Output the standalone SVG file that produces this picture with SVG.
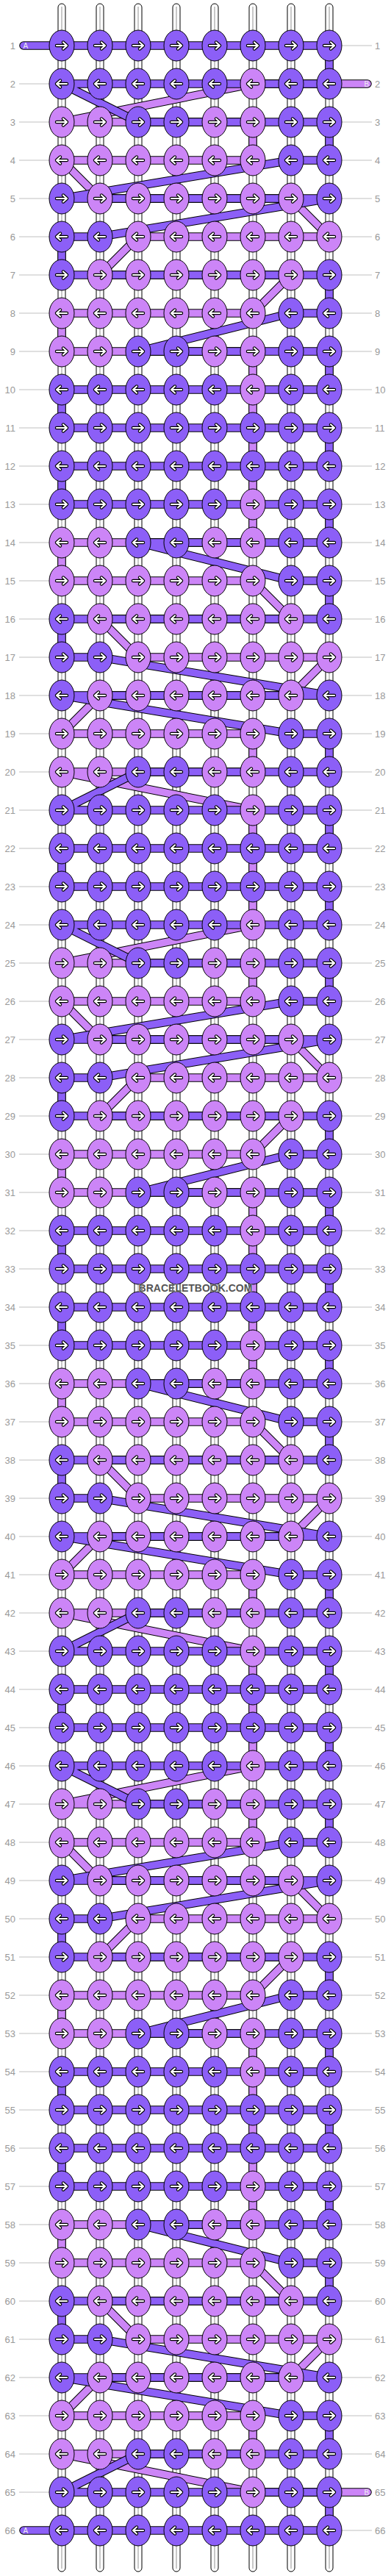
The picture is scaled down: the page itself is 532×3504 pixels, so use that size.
<svg xmlns="http://www.w3.org/2000/svg" xmlns:xlink="http://www.w3.org/1999/xlink" width="532" height="3504" viewBox="0 0 532 3504">
<style>
.s{fill:#fff;stroke:#000;stroke-width:1}
.sl{stroke:#c8c8c8;stroke-width:2}
.o{fill:none;stroke:#000;stroke-width:11.5;stroke-linejoin:round;stroke-linecap:round}
.pa{fill:none;stroke:#8c5ff7;stroke-width:9.5;stroke-linejoin:round;stroke-linecap:round}
.pb{fill:none;stroke:#cc85f7;stroke-width:9.5;stroke-linejoin:round;stroke-linecap:round}
.a{fill:#8c5ff7;stroke:#000;stroke-width:1}
.b{fill:#cc85f7;stroke:#000;stroke-width:1}
.gl{fill:none;stroke:#c0c0c0;stroke-width:1}
.l,.r{font-family:"Liberation Sans",Arial,sans-serif;font-size:13px;fill:#999}
.l{text-anchor:end}
.r{text-anchor:start}
.st{font-family:"Liberation Sans",Arial,sans-serif;font-size:10px;fill:#eee}
.ak{fill:none;stroke:#000;stroke-width:4.4;stroke-linecap:round;stroke-linejoin:round}
.aw{fill:none;stroke:#fff;stroke-width:2.2;stroke-linecap:round;stroke-linejoin:round}
</style>
<defs>
<g id="R"><path class="ak" d="M-7 0H6M2-4.5L7 0L2 4.5"/><path class="aw" d="M-7 0H6M2-4.5L7 0L2 4.5"/></g>
<g id="aR"><ellipse class="a" rx="17" ry="21"/><use href="#R"/></g>
<g id="aL"><ellipse class="a" rx="17" ry="21"/><use href="#R" transform="scale(-1,1)"/></g>
<g id="bR"><ellipse class="b" rx="17" ry="21"/><use href="#R"/></g>
<g id="bL"><ellipse class="b" rx="17" ry="21"/><use href="#R" transform="scale(-1,1)"/></g>
<path id="pathB" d="M500 114H344L84 166H344L344 218H84L136 270H396L448 322H188L136 374H396L344 426H84L84 478H344L344 686L344 738H84L84 790H344L396 842H136L188 894H448L396 946H136L84 998H344L344 1050H84L344 1102L344 1258L84 1310H344L344 1362H84L136 1414H396L448 1466H188L136 1518H396L344 1570H84L84 1622H344L344 1830L344 1882H84L84 1934H344L396 1986H136L188 2038H448L396 2090H136L84 2142H344L344 2194H84L344 2246L344 2402L84 2454H344L344 2506H84L136 2558H396L448 2610H188L136 2662H396L344 2714H84L84 2766H344L344 2974L344 3026H84L84 3078H344L396 3130H136L188 3182H448L396 3234H136L84 3286H344L344 3338H84L344 3390H500"/>
<path id="pathA" d="M32 62H448L448 114H84L188 166H448L448 218H396L84 270H448L136 322H84L84 374H448L448 426H396L188 478H448L448 530H84L84 582H448L448 634H84L84 686H448L448 738H188L396 790H448L448 842H84L84 894H136L448 946H84L396 998H448L448 1050H188L84 1102H448L448 1154H84L84 1206H448L448 1258H84L188 1310H448L448 1362H396L84 1414H448L136 1466H84L84 1518H448L448 1570H396L188 1622H448L448 1674H84L84 1726H448L448 1778H84L84 1830H448L448 1882H188L396 1934H448L448 1986H84L84 2038H136L448 2090H84L396 2142H448L448 2194H188L84 2246H448L448 2298H84L84 2350H448L448 2402H84L188 2454H448L448 2506H396L84 2558H448L136 2610H84L84 2662H448L448 2714H396L188 2766H448L448 2818H84L84 2870H448L448 2922H84L84 2974H448L448 3026H188L396 3078H448L448 3130H84L84 3182H136L448 3234H84L396 3286H448L448 3338H188L84 3390H448L448 3442H32"/>
</defs>
<rect width="532" height="3504" fill="#fff"/>
<g id="strings">
<rect class="s" x="79" y="5" width="10" height="3493" rx="5"/><rect class="s" x="131" y="5" width="10" height="3493" rx="5"/><rect class="s" x="183" y="5" width="10" height="3493" rx="5"/><rect class="s" x="235" y="5" width="10" height="3493" rx="5"/><rect class="s" x="287" y="5" width="10" height="3493" rx="5"/><rect class="s" x="339" y="5" width="10" height="3493" rx="5"/><rect class="s" x="391" y="5" width="10" height="3493" rx="5"/><rect class="s" x="443" y="5" width="10" height="3493" rx="5"/>
<path class="sl" d="M84 9V3494M136 9V3494M188 9V3494M240 9V3494M292 9V3494M344 9V3494M396 9V3494M448 9V3494"/>
</g>
<g id="labels">
<path class="gl" d="M26 62H67M465 62H506M26 114H67M465 114H506M26 166H67M465 166H506M26 218H67M465 218H506M26 270H67M465 270H506M26 322H67M465 322H506M26 374H67M465 374H506M26 426H67M465 426H506M26 478H67M465 478H506M26 530H67M465 530H506M26 582H67M465 582H506M26 634H67M465 634H506M26 686H67M465 686H506M26 738H67M465 738H506M26 790H67M465 790H506M26 842H67M465 842H506M26 894H67M465 894H506M26 946H67M465 946H506M26 998H67M465 998H506M26 1050H67M465 1050H506M26 1102H67M465 1102H506M26 1154H67M465 1154H506M26 1206H67M465 1206H506M26 1258H67M465 1258H506M26 1310H67M465 1310H506M26 1362H67M465 1362H506M26 1414H67M465 1414H506M26 1466H67M465 1466H506M26 1518H67M465 1518H506M26 1570H67M465 1570H506M26 1622H67M465 1622H506M26 1674H67M465 1674H506M26 1726H67M465 1726H506M26 1778H67M465 1778H506M26 1830H67M465 1830H506M26 1882H67M465 1882H506M26 1934H67M465 1934H506M26 1986H67M465 1986H506M26 2038H67M465 2038H506M26 2090H67M465 2090H506M26 2142H67M465 2142H506M26 2194H67M465 2194H506M26 2246H67M465 2246H506M26 2298H67M465 2298H506M26 2350H67M465 2350H506M26 2402H67M465 2402H506M26 2454H67M465 2454H506M26 2506H67M465 2506H506M26 2558H67M465 2558H506M26 2610H67M465 2610H506M26 2662H67M465 2662H506M26 2714H67M465 2714H506M26 2766H67M465 2766H506M26 2818H67M465 2818H506M26 2870H67M465 2870H506M26 2922H67M465 2922H506M26 2974H67M465 2974H506M26 3026H67M465 3026H506M26 3078H67M465 3078H506M26 3130H67M465 3130H506M26 3182H67M465 3182H506M26 3234H67M465 3234H506M26 3286H67M465 3286H506M26 3338H67M465 3338H506M26 3390H67M465 3390H506M26 3442H67M465 3442H506"/>
<text class="l" x="21" y="66.5">1</text><text class="r" x="510" y="66.5">1</text>
<text class="l" x="21" y="118.5">2</text><text class="r" x="510" y="118.5">2</text>
<text class="l" x="21" y="170.5">3</text><text class="r" x="510" y="170.5">3</text>
<text class="l" x="21" y="222.5">4</text><text class="r" x="510" y="222.5">4</text>
<text class="l" x="21" y="274.5">5</text><text class="r" x="510" y="274.5">5</text>
<text class="l" x="21" y="326.5">6</text><text class="r" x="510" y="326.5">6</text>
<text class="l" x="21" y="378.5">7</text><text class="r" x="510" y="378.5">7</text>
<text class="l" x="21" y="430.5">8</text><text class="r" x="510" y="430.5">8</text>
<text class="l" x="21" y="482.5">9</text><text class="r" x="510" y="482.5">9</text>
<text class="l" x="21" y="534.5">10</text><text class="r" x="510" y="534.5">10</text>
<text class="l" x="21" y="586.5">11</text><text class="r" x="510" y="586.5">11</text>
<text class="l" x="21" y="638.5">12</text><text class="r" x="510" y="638.5">12</text>
<text class="l" x="21" y="690.5">13</text><text class="r" x="510" y="690.5">13</text>
<text class="l" x="21" y="742.5">14</text><text class="r" x="510" y="742.5">14</text>
<text class="l" x="21" y="794.5">15</text><text class="r" x="510" y="794.5">15</text>
<text class="l" x="21" y="846.5">16</text><text class="r" x="510" y="846.5">16</text>
<text class="l" x="21" y="898.5">17</text><text class="r" x="510" y="898.5">17</text>
<text class="l" x="21" y="950.5">18</text><text class="r" x="510" y="950.5">18</text>
<text class="l" x="21" y="1002.5">19</text><text class="r" x="510" y="1002.5">19</text>
<text class="l" x="21" y="1054.5">20</text><text class="r" x="510" y="1054.5">20</text>
<text class="l" x="21" y="1106.5">21</text><text class="r" x="510" y="1106.5">21</text>
<text class="l" x="21" y="1158.5">22</text><text class="r" x="510" y="1158.5">22</text>
<text class="l" x="21" y="1210.5">23</text><text class="r" x="510" y="1210.5">23</text>
<text class="l" x="21" y="1262.5">24</text><text class="r" x="510" y="1262.5">24</text>
<text class="l" x="21" y="1314.5">25</text><text class="r" x="510" y="1314.5">25</text>
<text class="l" x="21" y="1366.5">26</text><text class="r" x="510" y="1366.5">26</text>
<text class="l" x="21" y="1418.5">27</text><text class="r" x="510" y="1418.5">27</text>
<text class="l" x="21" y="1470.5">28</text><text class="r" x="510" y="1470.5">28</text>
<text class="l" x="21" y="1522.5">29</text><text class="r" x="510" y="1522.5">29</text>
<text class="l" x="21" y="1574.5">30</text><text class="r" x="510" y="1574.5">30</text>
<text class="l" x="21" y="1626.5">31</text><text class="r" x="510" y="1626.5">31</text>
<text class="l" x="21" y="1678.5">32</text><text class="r" x="510" y="1678.5">32</text>
<text class="l" x="21" y="1730.5">33</text><text class="r" x="510" y="1730.5">33</text>
<text class="l" x="21" y="1782.5">34</text><text class="r" x="510" y="1782.5">34</text>
<text class="l" x="21" y="1834.5">35</text><text class="r" x="510" y="1834.5">35</text>
<text class="l" x="21" y="1886.5">36</text><text class="r" x="510" y="1886.5">36</text>
<text class="l" x="21" y="1938.5">37</text><text class="r" x="510" y="1938.5">37</text>
<text class="l" x="21" y="1990.5">38</text><text class="r" x="510" y="1990.5">38</text>
<text class="l" x="21" y="2042.5">39</text><text class="r" x="510" y="2042.5">39</text>
<text class="l" x="21" y="2094.5">40</text><text class="r" x="510" y="2094.5">40</text>
<text class="l" x="21" y="2146.5">41</text><text class="r" x="510" y="2146.5">41</text>
<text class="l" x="21" y="2198.5">42</text><text class="r" x="510" y="2198.5">42</text>
<text class="l" x="21" y="2250.5">43</text><text class="r" x="510" y="2250.5">43</text>
<text class="l" x="21" y="2302.5">44</text><text class="r" x="510" y="2302.5">44</text>
<text class="l" x="21" y="2354.5">45</text><text class="r" x="510" y="2354.5">45</text>
<text class="l" x="21" y="2406.5">46</text><text class="r" x="510" y="2406.5">46</text>
<text class="l" x="21" y="2458.5">47</text><text class="r" x="510" y="2458.5">47</text>
<text class="l" x="21" y="2510.5">48</text><text class="r" x="510" y="2510.5">48</text>
<text class="l" x="21" y="2562.5">49</text><text class="r" x="510" y="2562.5">49</text>
<text class="l" x="21" y="2614.5">50</text><text class="r" x="510" y="2614.5">50</text>
<text class="l" x="21" y="2666.5">51</text><text class="r" x="510" y="2666.5">51</text>
<text class="l" x="21" y="2718.5">52</text><text class="r" x="510" y="2718.5">52</text>
<text class="l" x="21" y="2770.5">53</text><text class="r" x="510" y="2770.5">53</text>
<text class="l" x="21" y="2822.5">54</text><text class="r" x="510" y="2822.5">54</text>
<text class="l" x="21" y="2874.5">55</text><text class="r" x="510" y="2874.5">55</text>
<text class="l" x="21" y="2926.5">56</text><text class="r" x="510" y="2926.5">56</text>
<text class="l" x="21" y="2978.5">57</text><text class="r" x="510" y="2978.5">57</text>
<text class="l" x="21" y="3030.5">58</text><text class="r" x="510" y="3030.5">58</text>
<text class="l" x="21" y="3082.5">59</text><text class="r" x="510" y="3082.5">59</text>
<text class="l" x="21" y="3134.5">60</text><text class="r" x="510" y="3134.5">60</text>
<text class="l" x="21" y="3186.5">61</text><text class="r" x="510" y="3186.5">61</text>
<text class="l" x="21" y="3238.5">62</text><text class="r" x="510" y="3238.5">62</text>
<text class="l" x="21" y="3290.5">63</text><text class="r" x="510" y="3290.5">63</text>
<text class="l" x="21" y="3342.5">64</text><text class="r" x="510" y="3342.5">64</text>
<text class="l" x="21" y="3394.5">65</text><text class="r" x="510" y="3394.5">65</text>
<text class="l" x="21" y="3446.5">66</text><text class="r" x="510" y="3446.5">66</text>
</g>
<g id="connectors">
<g id="threadB">
<use href="#pathB" class="o"/>
<use href="#pathB" class="pb"/>
<text class="st" x="495.5" y="118">B</text>
<text class="st" x="495.5" y="3394">B</text>
</g>
<g id="threadA">
<use href="#pathA" class="o"/>
<use href="#pathA" class="pa"/>
<text class="st" x="31.5" y="66">A</text>
<text class="st" x="31.5" y="3446">A</text>
</g>
</g>
<g id="knots">
<g transform="translate(0,62)"><g id="k1-1"><use href="#aR" x="84"/></g><g id="k1-2"><use href="#aR" x="136"/></g><g id="k1-3"><use href="#aR" x="188"/></g><g id="k1-4"><use href="#aR" x="240"/></g><g id="k1-5"><use href="#aR" x="292"/></g><g id="k1-6"><use href="#aR" x="344"/></g><g id="k1-7"><use href="#aR" x="396"/></g><g id="k1-8"><use href="#aR" x="448"/></g></g>
<g transform="translate(0,114)"><g id="k2-1"><use href="#aL" x="84"/></g><g id="k2-2"><use href="#aL" x="136"/></g><g id="k2-3"><use href="#aL" x="188"/></g><g id="k2-4"><use href="#aL" x="240"/></g><g id="k2-5"><use href="#aL" x="292"/></g><g id="k2-6"><use href="#bL" x="344"/></g><g id="k2-7"><use href="#aL" x="396"/></g><g id="k2-8"><use href="#aL" x="448"/></g></g>
<g transform="translate(0,166)"><g id="k3-1"><use href="#bR" x="84"/></g><g id="k3-2"><use href="#bR" x="136"/></g><g id="k3-3"><use href="#aR" x="188"/></g><g id="k3-4"><use href="#aR" x="240"/></g><g id="k3-5"><use href="#bR" x="292"/></g><g id="k3-6"><use href="#bR" x="344"/></g><g id="k3-7"><use href="#aR" x="396"/></g><g id="k3-8"><use href="#aR" x="448"/></g></g>
<g transform="translate(0,218)"><g id="k4-1"><use href="#bL" x="84"/></g><g id="k4-2"><use href="#bL" x="136"/></g><g id="k4-3"><use href="#bL" x="188"/></g><g id="k4-4"><use href="#bL" x="240"/></g><g id="k4-5"><use href="#bL" x="292"/></g><g id="k4-6"><use href="#bL" x="344"/></g><g id="k4-7"><use href="#aL" x="396"/></g><g id="k4-8"><use href="#aL" x="448"/></g></g>
<g transform="translate(0,270)"><g id="k5-1"><use href="#aR" x="84"/></g><g id="k5-2"><use href="#bR" x="136"/></g><g id="k5-3"><use href="#bR" x="188"/></g><g id="k5-4"><use href="#bR" x="240"/></g><g id="k5-5"><use href="#bR" x="292"/></g><g id="k5-6"><use href="#bR" x="344"/></g><g id="k5-7"><use href="#bR" x="396"/></g><g id="k5-8"><use href="#aR" x="448"/></g></g>
<g transform="translate(0,322)"><g id="k6-1"><use href="#aL" x="84"/></g><g id="k6-2"><use href="#aL" x="136"/></g><g id="k6-3"><use href="#bL" x="188"/></g><g id="k6-4"><use href="#bL" x="240"/></g><g id="k6-5"><use href="#bL" x="292"/></g><g id="k6-6"><use href="#bL" x="344"/></g><g id="k6-7"><use href="#bL" x="396"/></g><g id="k6-8"><use href="#bL" x="448"/></g></g>
<g transform="translate(0,374)"><g id="k7-1"><use href="#aR" x="84"/></g><g id="k7-2"><use href="#bR" x="136"/></g><g id="k7-3"><use href="#bR" x="188"/></g><g id="k7-4"><use href="#bR" x="240"/></g><g id="k7-5"><use href="#bR" x="292"/></g><g id="k7-6"><use href="#bR" x="344"/></g><g id="k7-7"><use href="#bR" x="396"/></g><g id="k7-8"><use href="#aR" x="448"/></g></g>
<g transform="translate(0,426)"><g id="k8-1"><use href="#bL" x="84"/></g><g id="k8-2"><use href="#bL" x="136"/></g><g id="k8-3"><use href="#bL" x="188"/></g><g id="k8-4"><use href="#bL" x="240"/></g><g id="k8-5"><use href="#bL" x="292"/></g><g id="k8-6"><use href="#bL" x="344"/></g><g id="k8-7"><use href="#aL" x="396"/></g><g id="k8-8"><use href="#aL" x="448"/></g></g>
<g transform="translate(0,478)"><g id="k9-1"><use href="#bR" x="84"/></g><g id="k9-2"><use href="#bR" x="136"/></g><g id="k9-3"><use href="#aR" x="188"/></g><g id="k9-4"><use href="#aR" x="240"/></g><g id="k9-5"><use href="#bR" x="292"/></g><g id="k9-6"><use href="#bR" x="344"/></g><g id="k9-7"><use href="#aR" x="396"/></g><g id="k9-8"><use href="#aR" x="448"/></g></g>
<g transform="translate(0,530)"><g id="k10-1"><use href="#aL" x="84"/></g><g id="k10-2"><use href="#aL" x="136"/></g><g id="k10-3"><use href="#aL" x="188"/></g><g id="k10-4"><use href="#aL" x="240"/></g><g id="k10-5"><use href="#aL" x="292"/></g><g id="k10-6"><use href="#bL" x="344"/></g><g id="k10-7"><use href="#aL" x="396"/></g><g id="k10-8"><use href="#aL" x="448"/></g></g>
<g transform="translate(0,582)"><g id="k11-1"><use href="#aR" x="84"/></g><g id="k11-2"><use href="#aR" x="136"/></g><g id="k11-3"><use href="#aR" x="188"/></g><g id="k11-4"><use href="#aR" x="240"/></g><g id="k11-5"><use href="#aR" x="292"/></g><g id="k11-6"><use href="#aR" x="344"/></g><g id="k11-7"><use href="#aR" x="396"/></g><g id="k11-8"><use href="#aR" x="448"/></g></g>
<g transform="translate(0,634)"><g id="k12-1"><use href="#aL" x="84"/></g><g id="k12-2"><use href="#aL" x="136"/></g><g id="k12-3"><use href="#aL" x="188"/></g><g id="k12-4"><use href="#aL" x="240"/></g><g id="k12-5"><use href="#aL" x="292"/></g><g id="k12-6"><use href="#aL" x="344"/></g><g id="k12-7"><use href="#aL" x="396"/></g><g id="k12-8"><use href="#aL" x="448"/></g></g>
<g transform="translate(0,686)"><g id="k13-1"><use href="#aR" x="84"/></g><g id="k13-2"><use href="#aR" x="136"/></g><g id="k13-3"><use href="#aR" x="188"/></g><g id="k13-4"><use href="#aR" x="240"/></g><g id="k13-5"><use href="#aR" x="292"/></g><g id="k13-6"><use href="#bR" x="344"/></g><g id="k13-7"><use href="#aR" x="396"/></g><g id="k13-8"><use href="#aR" x="448"/></g></g>
<g transform="translate(0,738)"><g id="k14-1"><use href="#bL" x="84"/></g><g id="k14-2"><use href="#bL" x="136"/></g><g id="k14-3"><use href="#aL" x="188"/></g><g id="k14-4"><use href="#aL" x="240"/></g><g id="k14-5"><use href="#bL" x="292"/></g><g id="k14-6"><use href="#bL" x="344"/></g><g id="k14-7"><use href="#aL" x="396"/></g><g id="k14-8"><use href="#aL" x="448"/></g></g>
<g transform="translate(0,790)"><g id="k15-1"><use href="#bR" x="84"/></g><g id="k15-2"><use href="#bR" x="136"/></g><g id="k15-3"><use href="#bR" x="188"/></g><g id="k15-4"><use href="#bR" x="240"/></g><g id="k15-5"><use href="#bR" x="292"/></g><g id="k15-6"><use href="#bR" x="344"/></g><g id="k15-7"><use href="#aR" x="396"/></g><g id="k15-8"><use href="#aR" x="448"/></g></g>
<g transform="translate(0,842)"><g id="k16-1"><use href="#aL" x="84"/></g><g id="k16-2"><use href="#bL" x="136"/></g><g id="k16-3"><use href="#bL" x="188"/></g><g id="k16-4"><use href="#bL" x="240"/></g><g id="k16-5"><use href="#bL" x="292"/></g><g id="k16-6"><use href="#bL" x="344"/></g><g id="k16-7"><use href="#bL" x="396"/></g><g id="k16-8"><use href="#aL" x="448"/></g></g>
<g transform="translate(0,894)"><g id="k17-1"><use href="#aR" x="84"/></g><g id="k17-2"><use href="#aR" x="136"/></g><g id="k17-3"><use href="#bR" x="188"/></g><g id="k17-4"><use href="#bR" x="240"/></g><g id="k17-5"><use href="#bR" x="292"/></g><g id="k17-6"><use href="#bR" x="344"/></g><g id="k17-7"><use href="#bR" x="396"/></g><g id="k17-8"><use href="#bR" x="448"/></g></g>
<g transform="translate(0,946)"><g id="k18-1"><use href="#aL" x="84"/></g><g id="k18-2"><use href="#bL" x="136"/></g><g id="k18-3"><use href="#bL" x="188"/></g><g id="k18-4"><use href="#bL" x="240"/></g><g id="k18-5"><use href="#bL" x="292"/></g><g id="k18-6"><use href="#bL" x="344"/></g><g id="k18-7"><use href="#bL" x="396"/></g><g id="k18-8"><use href="#aL" x="448"/></g></g>
<g transform="translate(0,998)"><g id="k19-1"><use href="#bR" x="84"/></g><g id="k19-2"><use href="#bR" x="136"/></g><g id="k19-3"><use href="#bR" x="188"/></g><g id="k19-4"><use href="#bR" x="240"/></g><g id="k19-5"><use href="#bR" x="292"/></g><g id="k19-6"><use href="#bR" x="344"/></g><g id="k19-7"><use href="#aR" x="396"/></g><g id="k19-8"><use href="#aR" x="448"/></g></g>
<g transform="translate(0,1050)"><g id="k20-1"><use href="#bL" x="84"/></g><g id="k20-2"><use href="#bL" x="136"/></g><g id="k20-3"><use href="#aL" x="188"/></g><g id="k20-4"><use href="#aL" x="240"/></g><g id="k20-5"><use href="#bL" x="292"/></g><g id="k20-6"><use href="#bL" x="344"/></g><g id="k20-7"><use href="#aL" x="396"/></g><g id="k20-8"><use href="#aL" x="448"/></g></g>
<g transform="translate(0,1102)"><g id="k21-1"><use href="#aR" x="84"/></g><g id="k21-2"><use href="#aR" x="136"/></g><g id="k21-3"><use href="#aR" x="188"/></g><g id="k21-4"><use href="#aR" x="240"/></g><g id="k21-5"><use href="#aR" x="292"/></g><g id="k21-6"><use href="#bR" x="344"/></g><g id="k21-7"><use href="#aR" x="396"/></g><g id="k21-8"><use href="#aR" x="448"/></g></g>
<g transform="translate(0,1154)"><g id="k22-1"><use href="#aL" x="84"/></g><g id="k22-2"><use href="#aL" x="136"/></g><g id="k22-3"><use href="#aL" x="188"/></g><g id="k22-4"><use href="#aL" x="240"/></g><g id="k22-5"><use href="#aL" x="292"/></g><g id="k22-6"><use href="#aL" x="344"/></g><g id="k22-7"><use href="#aL" x="396"/></g><g id="k22-8"><use href="#aL" x="448"/></g></g>
<g transform="translate(0,1206)"><g id="k23-1"><use href="#aR" x="84"/></g><g id="k23-2"><use href="#aR" x="136"/></g><g id="k23-3"><use href="#aR" x="188"/></g><g id="k23-4"><use href="#aR" x="240"/></g><g id="k23-5"><use href="#aR" x="292"/></g><g id="k23-6"><use href="#aR" x="344"/></g><g id="k23-7"><use href="#aR" x="396"/></g><g id="k23-8"><use href="#aR" x="448"/></g></g>
<g transform="translate(0,1258)"><g id="k24-1"><use href="#aL" x="84"/></g><g id="k24-2"><use href="#aL" x="136"/></g><g id="k24-3"><use href="#aL" x="188"/></g><g id="k24-4"><use href="#aL" x="240"/></g><g id="k24-5"><use href="#aL" x="292"/></g><g id="k24-6"><use href="#bL" x="344"/></g><g id="k24-7"><use href="#aL" x="396"/></g><g id="k24-8"><use href="#aL" x="448"/></g></g>
<g transform="translate(0,1310)"><g id="k25-1"><use href="#bR" x="84"/></g><g id="k25-2"><use href="#bR" x="136"/></g><g id="k25-3"><use href="#aR" x="188"/></g><g id="k25-4"><use href="#aR" x="240"/></g><g id="k25-5"><use href="#bR" x="292"/></g><g id="k25-6"><use href="#bR" x="344"/></g><g id="k25-7"><use href="#aR" x="396"/></g><g id="k25-8"><use href="#aR" x="448"/></g></g>
<g transform="translate(0,1362)"><g id="k26-1"><use href="#bL" x="84"/></g><g id="k26-2"><use href="#bL" x="136"/></g><g id="k26-3"><use href="#bL" x="188"/></g><g id="k26-4"><use href="#bL" x="240"/></g><g id="k26-5"><use href="#bL" x="292"/></g><g id="k26-6"><use href="#bL" x="344"/></g><g id="k26-7"><use href="#aL" x="396"/></g><g id="k26-8"><use href="#aL" x="448"/></g></g>
<g transform="translate(0,1414)"><g id="k27-1"><use href="#aR" x="84"/></g><g id="k27-2"><use href="#bR" x="136"/></g><g id="k27-3"><use href="#bR" x="188"/></g><g id="k27-4"><use href="#bR" x="240"/></g><g id="k27-5"><use href="#bR" x="292"/></g><g id="k27-6"><use href="#bR" x="344"/></g><g id="k27-7"><use href="#bR" x="396"/></g><g id="k27-8"><use href="#aR" x="448"/></g></g>
<g transform="translate(0,1466)"><g id="k28-1"><use href="#aL" x="84"/></g><g id="k28-2"><use href="#aL" x="136"/></g><g id="k28-3"><use href="#bL" x="188"/></g><g id="k28-4"><use href="#bL" x="240"/></g><g id="k28-5"><use href="#bL" x="292"/></g><g id="k28-6"><use href="#bL" x="344"/></g><g id="k28-7"><use href="#bL" x="396"/></g><g id="k28-8"><use href="#bL" x="448"/></g></g>
<g transform="translate(0,1518)"><g id="k29-1"><use href="#aR" x="84"/></g><g id="k29-2"><use href="#bR" x="136"/></g><g id="k29-3"><use href="#bR" x="188"/></g><g id="k29-4"><use href="#bR" x="240"/></g><g id="k29-5"><use href="#bR" x="292"/></g><g id="k29-6"><use href="#bR" x="344"/></g><g id="k29-7"><use href="#bR" x="396"/></g><g id="k29-8"><use href="#aR" x="448"/></g></g>
<g transform="translate(0,1570)"><g id="k30-1"><use href="#bL" x="84"/></g><g id="k30-2"><use href="#bL" x="136"/></g><g id="k30-3"><use href="#bL" x="188"/></g><g id="k30-4"><use href="#bL" x="240"/></g><g id="k30-5"><use href="#bL" x="292"/></g><g id="k30-6"><use href="#bL" x="344"/></g><g id="k30-7"><use href="#aL" x="396"/></g><g id="k30-8"><use href="#aL" x="448"/></g></g>
<g transform="translate(0,1622)"><g id="k31-1"><use href="#bR" x="84"/></g><g id="k31-2"><use href="#bR" x="136"/></g><g id="k31-3"><use href="#aR" x="188"/></g><g id="k31-4"><use href="#aR" x="240"/></g><g id="k31-5"><use href="#bR" x="292"/></g><g id="k31-6"><use href="#bR" x="344"/></g><g id="k31-7"><use href="#aR" x="396"/></g><g id="k31-8"><use href="#aR" x="448"/></g></g>
<g transform="translate(0,1674)"><g id="k32-1"><use href="#aL" x="84"/></g><g id="k32-2"><use href="#aL" x="136"/></g><g id="k32-3"><use href="#aL" x="188"/></g><g id="k32-4"><use href="#aL" x="240"/></g><g id="k32-5"><use href="#aL" x="292"/></g><g id="k32-6"><use href="#bL" x="344"/></g><g id="k32-7"><use href="#aL" x="396"/></g><g id="k32-8"><use href="#aL" x="448"/></g></g>
<g transform="translate(0,1726)"><g id="k33-1"><use href="#aR" x="84"/></g><g id="k33-2"><use href="#aR" x="136"/></g><g id="k33-3"><use href="#aR" x="188"/></g><g id="k33-4"><use href="#aR" x="240"/></g><g id="k33-5"><use href="#aR" x="292"/></g><g id="k33-6"><use href="#aR" x="344"/></g><g id="k33-7"><use href="#aR" x="396"/></g><g id="k33-8"><use href="#aR" x="448"/></g></g>
<g transform="translate(0,1778)"><g id="k34-1"><use href="#aL" x="84"/></g><g id="k34-2"><use href="#aL" x="136"/></g><g id="k34-3"><use href="#aL" x="188"/></g><g id="k34-4"><use href="#aL" x="240"/></g><g id="k34-5"><use href="#aL" x="292"/></g><g id="k34-6"><use href="#aL" x="344"/></g><g id="k34-7"><use href="#aL" x="396"/></g><g id="k34-8"><use href="#aL" x="448"/></g></g>
<g transform="translate(0,1830)"><g id="k35-1"><use href="#aR" x="84"/></g><g id="k35-2"><use href="#aR" x="136"/></g><g id="k35-3"><use href="#aR" x="188"/></g><g id="k35-4"><use href="#aR" x="240"/></g><g id="k35-5"><use href="#aR" x="292"/></g><g id="k35-6"><use href="#bR" x="344"/></g><g id="k35-7"><use href="#aR" x="396"/></g><g id="k35-8"><use href="#aR" x="448"/></g></g>
<g transform="translate(0,1882)"><g id="k36-1"><use href="#bL" x="84"/></g><g id="k36-2"><use href="#bL" x="136"/></g><g id="k36-3"><use href="#aL" x="188"/></g><g id="k36-4"><use href="#aL" x="240"/></g><g id="k36-5"><use href="#bL" x="292"/></g><g id="k36-6"><use href="#bL" x="344"/></g><g id="k36-7"><use href="#aL" x="396"/></g><g id="k36-8"><use href="#aL" x="448"/></g></g>
<g transform="translate(0,1934)"><g id="k37-1"><use href="#bR" x="84"/></g><g id="k37-2"><use href="#bR" x="136"/></g><g id="k37-3"><use href="#bR" x="188"/></g><g id="k37-4"><use href="#bR" x="240"/></g><g id="k37-5"><use href="#bR" x="292"/></g><g id="k37-6"><use href="#bR" x="344"/></g><g id="k37-7"><use href="#aR" x="396"/></g><g id="k37-8"><use href="#aR" x="448"/></g></g>
<g transform="translate(0,1986)"><g id="k38-1"><use href="#aL" x="84"/></g><g id="k38-2"><use href="#bL" x="136"/></g><g id="k38-3"><use href="#bL" x="188"/></g><g id="k38-4"><use href="#bL" x="240"/></g><g id="k38-5"><use href="#bL" x="292"/></g><g id="k38-6"><use href="#bL" x="344"/></g><g id="k38-7"><use href="#bL" x="396"/></g><g id="k38-8"><use href="#aL" x="448"/></g></g>
<g transform="translate(0,2038)"><g id="k39-1"><use href="#aR" x="84"/></g><g id="k39-2"><use href="#aR" x="136"/></g><g id="k39-3"><use href="#bR" x="188"/></g><g id="k39-4"><use href="#bR" x="240"/></g><g id="k39-5"><use href="#bR" x="292"/></g><g id="k39-6"><use href="#bR" x="344"/></g><g id="k39-7"><use href="#bR" x="396"/></g><g id="k39-8"><use href="#bR" x="448"/></g></g>
<g transform="translate(0,2090)"><g id="k40-1"><use href="#aL" x="84"/></g><g id="k40-2"><use href="#bL" x="136"/></g><g id="k40-3"><use href="#bL" x="188"/></g><g id="k40-4"><use href="#bL" x="240"/></g><g id="k40-5"><use href="#bL" x="292"/></g><g id="k40-6"><use href="#bL" x="344"/></g><g id="k40-7"><use href="#bL" x="396"/></g><g id="k40-8"><use href="#aL" x="448"/></g></g>
<g transform="translate(0,2142)"><g id="k41-1"><use href="#bR" x="84"/></g><g id="k41-2"><use href="#bR" x="136"/></g><g id="k41-3"><use href="#bR" x="188"/></g><g id="k41-4"><use href="#bR" x="240"/></g><g id="k41-5"><use href="#bR" x="292"/></g><g id="k41-6"><use href="#bR" x="344"/></g><g id="k41-7"><use href="#aR" x="396"/></g><g id="k41-8"><use href="#aR" x="448"/></g></g>
<g transform="translate(0,2194)"><g id="k42-1"><use href="#bL" x="84"/></g><g id="k42-2"><use href="#bL" x="136"/></g><g id="k42-3"><use href="#aL" x="188"/></g><g id="k42-4"><use href="#aL" x="240"/></g><g id="k42-5"><use href="#bL" x="292"/></g><g id="k42-6"><use href="#bL" x="344"/></g><g id="k42-7"><use href="#aL" x="396"/></g><g id="k42-8"><use href="#aL" x="448"/></g></g>
<g transform="translate(0,2246)"><g id="k43-1"><use href="#aR" x="84"/></g><g id="k43-2"><use href="#aR" x="136"/></g><g id="k43-3"><use href="#aR" x="188"/></g><g id="k43-4"><use href="#aR" x="240"/></g><g id="k43-5"><use href="#aR" x="292"/></g><g id="k43-6"><use href="#bR" x="344"/></g><g id="k43-7"><use href="#aR" x="396"/></g><g id="k43-8"><use href="#aR" x="448"/></g></g>
<g transform="translate(0,2298)"><g id="k44-1"><use href="#aL" x="84"/></g><g id="k44-2"><use href="#aL" x="136"/></g><g id="k44-3"><use href="#aL" x="188"/></g><g id="k44-4"><use href="#aL" x="240"/></g><g id="k44-5"><use href="#aL" x="292"/></g><g id="k44-6"><use href="#aL" x="344"/></g><g id="k44-7"><use href="#aL" x="396"/></g><g id="k44-8"><use href="#aL" x="448"/></g></g>
<g transform="translate(0,2350)"><g id="k45-1"><use href="#aR" x="84"/></g><g id="k45-2"><use href="#aR" x="136"/></g><g id="k45-3"><use href="#aR" x="188"/></g><g id="k45-4"><use href="#aR" x="240"/></g><g id="k45-5"><use href="#aR" x="292"/></g><g id="k45-6"><use href="#aR" x="344"/></g><g id="k45-7"><use href="#aR" x="396"/></g><g id="k45-8"><use href="#aR" x="448"/></g></g>
<g transform="translate(0,2402)"><g id="k46-1"><use href="#aL" x="84"/></g><g id="k46-2"><use href="#aL" x="136"/></g><g id="k46-3"><use href="#aL" x="188"/></g><g id="k46-4"><use href="#aL" x="240"/></g><g id="k46-5"><use href="#aL" x="292"/></g><g id="k46-6"><use href="#bL" x="344"/></g><g id="k46-7"><use href="#aL" x="396"/></g><g id="k46-8"><use href="#aL" x="448"/></g></g>
<g transform="translate(0,2454)"><g id="k47-1"><use href="#bR" x="84"/></g><g id="k47-2"><use href="#bR" x="136"/></g><g id="k47-3"><use href="#aR" x="188"/></g><g id="k47-4"><use href="#aR" x="240"/></g><g id="k47-5"><use href="#bR" x="292"/></g><g id="k47-6"><use href="#bR" x="344"/></g><g id="k47-7"><use href="#aR" x="396"/></g><g id="k47-8"><use href="#aR" x="448"/></g></g>
<g transform="translate(0,2506)"><g id="k48-1"><use href="#bL" x="84"/></g><g id="k48-2"><use href="#bL" x="136"/></g><g id="k48-3"><use href="#bL" x="188"/></g><g id="k48-4"><use href="#bL" x="240"/></g><g id="k48-5"><use href="#bL" x="292"/></g><g id="k48-6"><use href="#bL" x="344"/></g><g id="k48-7"><use href="#aL" x="396"/></g><g id="k48-8"><use href="#aL" x="448"/></g></g>
<g transform="translate(0,2558)"><g id="k49-1"><use href="#aR" x="84"/></g><g id="k49-2"><use href="#bR" x="136"/></g><g id="k49-3"><use href="#bR" x="188"/></g><g id="k49-4"><use href="#bR" x="240"/></g><g id="k49-5"><use href="#bR" x="292"/></g><g id="k49-6"><use href="#bR" x="344"/></g><g id="k49-7"><use href="#bR" x="396"/></g><g id="k49-8"><use href="#aR" x="448"/></g></g>
<g transform="translate(0,2610)"><g id="k50-1"><use href="#aL" x="84"/></g><g id="k50-2"><use href="#aL" x="136"/></g><g id="k50-3"><use href="#bL" x="188"/></g><g id="k50-4"><use href="#bL" x="240"/></g><g id="k50-5"><use href="#bL" x="292"/></g><g id="k50-6"><use href="#bL" x="344"/></g><g id="k50-7"><use href="#bL" x="396"/></g><g id="k50-8"><use href="#bL" x="448"/></g></g>
<g transform="translate(0,2662)"><g id="k51-1"><use href="#aR" x="84"/></g><g id="k51-2"><use href="#bR" x="136"/></g><g id="k51-3"><use href="#bR" x="188"/></g><g id="k51-4"><use href="#bR" x="240"/></g><g id="k51-5"><use href="#bR" x="292"/></g><g id="k51-6"><use href="#bR" x="344"/></g><g id="k51-7"><use href="#bR" x="396"/></g><g id="k51-8"><use href="#aR" x="448"/></g></g>
<g transform="translate(0,2714)"><g id="k52-1"><use href="#bL" x="84"/></g><g id="k52-2"><use href="#bL" x="136"/></g><g id="k52-3"><use href="#bL" x="188"/></g><g id="k52-4"><use href="#bL" x="240"/></g><g id="k52-5"><use href="#bL" x="292"/></g><g id="k52-6"><use href="#bL" x="344"/></g><g id="k52-7"><use href="#aL" x="396"/></g><g id="k52-8"><use href="#aL" x="448"/></g></g>
<g transform="translate(0,2766)"><g id="k53-1"><use href="#bR" x="84"/></g><g id="k53-2"><use href="#bR" x="136"/></g><g id="k53-3"><use href="#aR" x="188"/></g><g id="k53-4"><use href="#aR" x="240"/></g><g id="k53-5"><use href="#bR" x="292"/></g><g id="k53-6"><use href="#bR" x="344"/></g><g id="k53-7"><use href="#aR" x="396"/></g><g id="k53-8"><use href="#aR" x="448"/></g></g>
<g transform="translate(0,2818)"><g id="k54-1"><use href="#aL" x="84"/></g><g id="k54-2"><use href="#aL" x="136"/></g><g id="k54-3"><use href="#aL" x="188"/></g><g id="k54-4"><use href="#aL" x="240"/></g><g id="k54-5"><use href="#aL" x="292"/></g><g id="k54-6"><use href="#bL" x="344"/></g><g id="k54-7"><use href="#aL" x="396"/></g><g id="k54-8"><use href="#aL" x="448"/></g></g>
<g transform="translate(0,2870)"><g id="k55-1"><use href="#aR" x="84"/></g><g id="k55-2"><use href="#aR" x="136"/></g><g id="k55-3"><use href="#aR" x="188"/></g><g id="k55-4"><use href="#aR" x="240"/></g><g id="k55-5"><use href="#aR" x="292"/></g><g id="k55-6"><use href="#aR" x="344"/></g><g id="k55-7"><use href="#aR" x="396"/></g><g id="k55-8"><use href="#aR" x="448"/></g></g>
<g transform="translate(0,2922)"><g id="k56-1"><use href="#aL" x="84"/></g><g id="k56-2"><use href="#aL" x="136"/></g><g id="k56-3"><use href="#aL" x="188"/></g><g id="k56-4"><use href="#aL" x="240"/></g><g id="k56-5"><use href="#aL" x="292"/></g><g id="k56-6"><use href="#aL" x="344"/></g><g id="k56-7"><use href="#aL" x="396"/></g><g id="k56-8"><use href="#aL" x="448"/></g></g>
<g transform="translate(0,2974)"><g id="k57-1"><use href="#aR" x="84"/></g><g id="k57-2"><use href="#aR" x="136"/></g><g id="k57-3"><use href="#aR" x="188"/></g><g id="k57-4"><use href="#aR" x="240"/></g><g id="k57-5"><use href="#aR" x="292"/></g><g id="k57-6"><use href="#bR" x="344"/></g><g id="k57-7"><use href="#aR" x="396"/></g><g id="k57-8"><use href="#aR" x="448"/></g></g>
<g transform="translate(0,3026)"><g id="k58-1"><use href="#bL" x="84"/></g><g id="k58-2"><use href="#bL" x="136"/></g><g id="k58-3"><use href="#aL" x="188"/></g><g id="k58-4"><use href="#aL" x="240"/></g><g id="k58-5"><use href="#bL" x="292"/></g><g id="k58-6"><use href="#bL" x="344"/></g><g id="k58-7"><use href="#aL" x="396"/></g><g id="k58-8"><use href="#aL" x="448"/></g></g>
<g transform="translate(0,3078)"><g id="k59-1"><use href="#bR" x="84"/></g><g id="k59-2"><use href="#bR" x="136"/></g><g id="k59-3"><use href="#bR" x="188"/></g><g id="k59-4"><use href="#bR" x="240"/></g><g id="k59-5"><use href="#bR" x="292"/></g><g id="k59-6"><use href="#bR" x="344"/></g><g id="k59-7"><use href="#aR" x="396"/></g><g id="k59-8"><use href="#aR" x="448"/></g></g>
<g transform="translate(0,3130)"><g id="k60-1"><use href="#aL" x="84"/></g><g id="k60-2"><use href="#bL" x="136"/></g><g id="k60-3"><use href="#bL" x="188"/></g><g id="k60-4"><use href="#bL" x="240"/></g><g id="k60-5"><use href="#bL" x="292"/></g><g id="k60-6"><use href="#bL" x="344"/></g><g id="k60-7"><use href="#bL" x="396"/></g><g id="k60-8"><use href="#aL" x="448"/></g></g>
<g transform="translate(0,3182)"><g id="k61-1"><use href="#aR" x="84"/></g><g id="k61-2"><use href="#aR" x="136"/></g><g id="k61-3"><use href="#bR" x="188"/></g><g id="k61-4"><use href="#bR" x="240"/></g><g id="k61-5"><use href="#bR" x="292"/></g><g id="k61-6"><use href="#bR" x="344"/></g><g id="k61-7"><use href="#bR" x="396"/></g><g id="k61-8"><use href="#bR" x="448"/></g></g>
<g transform="translate(0,3234)"><g id="k62-1"><use href="#aL" x="84"/></g><g id="k62-2"><use href="#bL" x="136"/></g><g id="k62-3"><use href="#bL" x="188"/></g><g id="k62-4"><use href="#bL" x="240"/></g><g id="k62-5"><use href="#bL" x="292"/></g><g id="k62-6"><use href="#bL" x="344"/></g><g id="k62-7"><use href="#bL" x="396"/></g><g id="k62-8"><use href="#aL" x="448"/></g></g>
<g transform="translate(0,3286)"><g id="k63-1"><use href="#bR" x="84"/></g><g id="k63-2"><use href="#bR" x="136"/></g><g id="k63-3"><use href="#bR" x="188"/></g><g id="k63-4"><use href="#bR" x="240"/></g><g id="k63-5"><use href="#bR" x="292"/></g><g id="k63-6"><use href="#bR" x="344"/></g><g id="k63-7"><use href="#aR" x="396"/></g><g id="k63-8"><use href="#aR" x="448"/></g></g>
<g transform="translate(0,3338)"><g id="k64-1"><use href="#bL" x="84"/></g><g id="k64-2"><use href="#bL" x="136"/></g><g id="k64-3"><use href="#aL" x="188"/></g><g id="k64-4"><use href="#aL" x="240"/></g><g id="k64-5"><use href="#bL" x="292"/></g><g id="k64-6"><use href="#bL" x="344"/></g><g id="k64-7"><use href="#aL" x="396"/></g><g id="k64-8"><use href="#aL" x="448"/></g></g>
<g transform="translate(0,3390)"><g id="k65-1"><use href="#aR" x="84"/></g><g id="k65-2"><use href="#aR" x="136"/></g><g id="k65-3"><use href="#aR" x="188"/></g><g id="k65-4"><use href="#aR" x="240"/></g><g id="k65-5"><use href="#aR" x="292"/></g><g id="k65-6"><use href="#bR" x="344"/></g><g id="k65-7"><use href="#aR" x="396"/></g><g id="k65-8"><use href="#aR" x="448"/></g></g>
<g transform="translate(0,3442)"><g id="k66-1"><use href="#aL" x="84"/></g><g id="k66-2"><use href="#aL" x="136"/></g><g id="k66-3"><use href="#aL" x="188"/></g><g id="k66-4"><use href="#aL" x="240"/></g><g id="k66-5"><use href="#aL" x="292"/></g><g id="k66-6"><use href="#aL" x="344"/></g><g id="k66-7"><use href="#aL" x="396"/></g><g id="k66-8"><use href="#aL" x="448"/></g></g>
</g>
<text id="watermark" x="266" y="1757" text-anchor="middle" font-family="'Liberation Sans',Arial,sans-serif" font-weight="bold" font-size="14" fill="#555" stroke="#fff" stroke-width="0.6" paint-order="stroke">BRACELETBOOK.COM</text>
</svg>
